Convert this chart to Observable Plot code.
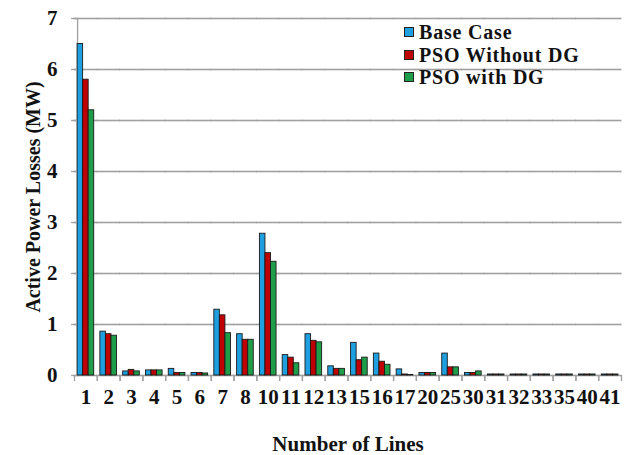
<!DOCTYPE html>
<html>
<head>
<meta charset="utf-8">
<script src="https://cdn.jsdelivr.net/npm/d3@7"></script>
<script src="https://cdn.jsdelivr.net/npm/@observablehq/plot@0.6"></script>
<style>
  body { margin: 0; background: #fff; }
  #wrap { position: relative; width: 628px; height: 455px; }
  #legend { position: absolute; left: 404px; top: 21px; font-family: "Liberation Serif", serif; font-weight: bold; font-size: 20px; letter-spacing: 0.8px; line-height: 22.5px; color: #111; }
  #legend div { display: flex; align-items: center; white-space: nowrap; }
  #legend span.sw { display: inline-block; width: 8px; height: 8px; border: 1px solid #222; margin-right: 5px; }
</style>
</head>
<body>
<div id="wrap"><div id="legend"></div></div>
<script>
const lines = ["1","2","3","4","5","6","7","8","10","11","12","13","15","16","17","20","25","30","31","32","33","35","40","41"];
const series = ["Base Case", "PSO Without DG", "PSO with DG"];
const colors = ["#1e9fe0", "#c00000", "#1f9e4a"];
const baseCase   = [6.50, 0.86, 0.08, 0.10, 0.13, 0.05, 1.29, 0.81, 2.78, 0.40, 0.81, 0.18, 0.64, 0.43, 0.12, 0.05, 0.43, 0.05, 0.02, 0.02, 0.02, 0.02, 0.02, 0.02];
const psoNoDG    = [5.80, 0.81, 0.11, 0.10, 0.05, 0.05, 1.18, 0.70, 2.40, 0.35, 0.68, 0.13, 0.30, 0.27, 0.02, 0.05, 0.16, 0.05, 0.02, 0.02, 0.02, 0.02, 0.02, 0.02];
const psoWithDG  = [5.20, 0.78, 0.08, 0.10, 0.05, 0.04, 0.83, 0.70, 2.23, 0.24, 0.65, 0.13, 0.35, 0.21, 0.01, 0.05, 0.16, 0.08, 0.02, 0.02, 0.02, 0.02, 0.02, 0.02];
const yTicks = [0, 1, 2, 3, 4, 5, 6, 7];

const valuesBySeries = [baseCase, psoNoDG, psoWithDG];
const data = [];
lines.forEach((l, i) => series.forEach((s, j) => data.push({line: l, series: s, value: valuesBySeries[j][i]})));

const W = 628, H = 455, mL = 74, mR = 7, mT = 18, mB = 80;
const padIn = 0.27;
const step = (W - mL - mR) / lines.length;
const band = step * (1 - padIn);
const barW = band / series.length;
const halfGap = (step - band) / 2;
const edge = barW / 2 + halfGap;

const font = "Liberation Serif, Times New Roman, serif";
const gridColor = "#a0a0a0";

const chart = Plot.plot({
  width: W, height: H,
  marginLeft: mL, marginRight: mR, marginTop: mT, marginBottom: mB,
  style: {fontFamily: font, fontSize: "21px", fontWeight: "bold", color: "#111", background: "transparent"},
  fx: {domain: lines, paddingInner: padIn, paddingOuter: padIn / 2, round: false},
  x: {domain: series, padding: 0, round: false, axis: null},
  y: {domain: [0, 7]},
  color: {domain: series, range: colors},
  marks: [
    Plot.ruleY(yTicks, {stroke: gridColor, strokeWidth: 1.6, insetLeft: -halfGap - 0.5, insetRight: -halfGap - 0.5}),
    Plot.frame({anchor: "left", facet: "super", stroke: gridColor, strokeWidth: 1.3}),
    Plot.barY(data, {fx: "line", x: "series", y: "value", fill: "series", stroke: "#1a1a1a", strokeWidth: 0.9}),
    Plot.ruleX(lines, {fx: d => d, x: () => series[0], y1: 0, y2: 0, insetBottom: -6, dx: -edge, stroke: gridColor, strokeWidth: 1.3}),
    Plot.ruleX(lines, {fx: d => d, x: () => series[2], y1: 0, y2: 0, insetBottom: -6, dx: edge, stroke: gridColor, strokeWidth: 1.3}),
    Plot.axisY(yTicks, {anchor: "left", label: null, tickSize: 6, tickPadding: 14, tickFormat: "d", stroke: gridColor, strokeWidth: 1.3, fontSize: 21, fontWeight: "bold"}),
    Plot.axisY({anchor: "left", ticks: [], label: "Active Power Losses (MW)", labelAnchor: "center", labelArrow: "none", labelOffset: 52, fontSize: 20, fontWeight: "bold"}),
    Plot.axisFx({anchor: "bottom", tickSize: 0, tickPadding: 14, fontSize: 21, fontWeight: "bold",
      label: "Number of Lines", labelAnchor: "center", labelArrow: "none", labelOffset: 75})
  ]
});
document.getElementById("wrap").prepend(chart);

const legend = document.getElementById("legend");
series.forEach((s, j) => {
  const row = document.createElement("div");
  const sw = document.createElement("span");
  sw.className = "sw";
  sw.style.background = colors[j];
  row.appendChild(sw);
  row.appendChild(document.createTextNode(s));
  legend.appendChild(row);
});
</script>
</body>
</html>
